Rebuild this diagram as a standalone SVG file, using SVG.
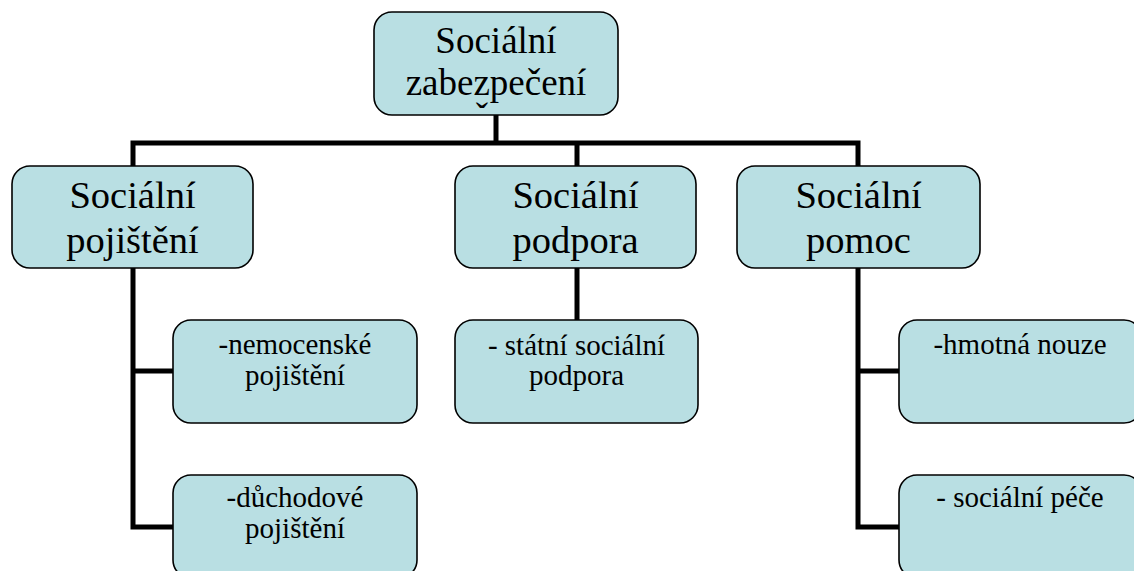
<svg xmlns="http://www.w3.org/2000/svg" width="1134" height="571" viewBox="0 0 1134 571" font-family="Liberation Serif, Times New Roman, serif">
<style>
.box{fill:#b9dfe3;stroke:#000;stroke-width:1.6}
.t{fill:#000;text-anchor:middle}
.t1{font-size:37px}
.t2{font-size:38.5px}
.t3{font-size:29px}
.c{fill:none;stroke:#000;stroke-width:5;stroke-linecap:butt;stroke-linejoin:miter}
</style>
<rect width="1134" height="571" fill="#fff"/>
<g id="connectors">
<path class="c" d="M496,115 V143 M130.5,143 H860.5 M133,143 V166 M577,143 V166 M858,143 V166"/>
<path class="c" d="M133,268 V529.5 M133,371 H173 M133,527 H173"/>
<path class="c" d="M577,268 V320"/>
<path class="c" d="M858,268 V529.5 M858,371 H899 M858,527 H899"/>
</g>
<g id="n-root">
<rect class="box" x="374" y="12" width="244" height="103" rx="18"/>
<text class="t t1" font-family="Liberation Serif" x="496" y="53">Sociální</text>
<text class="t t1" font-family="Liberation Serif" x="496" y="95">zabezpečení</text>
<text class="t t1" font-family="Liberation Serif" x="482" y="129">ˇ</text>
</g>
<g id="n-pojisteni">
<rect class="box" x="12" y="166" width="241" height="102" rx="18"/>
<text class="t t2" x="132.5" y="208">Sociální</text>
<text class="t t2" x="132.5" y="253">pojištění</text>
</g>
<g id="n-podpora">
<rect class="box" x="455" y="166" width="241" height="102" rx="18"/>
<text class="t t2" x="575.5" y="208">Sociální</text>
<text class="t t2" x="575.5" y="253">podpora</text>
</g>
<g id="n-pomoc">
<rect class="box" x="737" y="166" width="243" height="102" rx="18"/>
<text class="t t2" x="858.5" y="208">Sociální</text>
<text class="t t2" x="858.5" y="253">pomoc</text>
</g>
<g id="n-nemocenske">
<rect class="box" x="173" y="320" width="244" height="103" rx="18"/>
<text class="t t3" x="295" y="354">-nemocenské</text>
<text class="t t3" x="295" y="385">pojištění</text>
</g>
<g id="n-duchodove">
<rect class="box" x="173" y="475" width="244" height="103" rx="18"/>
<text class="t t3" x="295" y="507">-důchodové</text>
<text class="t t3" x="295" y="538">pojištění</text>
</g>
<g id="n-statni">
<rect class="box" x="455" y="320" width="243" height="103" rx="18"/>
<text class="t t3" x="576.5" y="355">- státní sociální</text>
<text class="t t3" x="576.5" y="385">podpora</text>
</g>
<g id="n-hmotna">
<rect class="box" x="899" y="320" width="243" height="103" rx="18"/>
<text class="t t3" x="1020" y="354">-hmotná nouze</text>
</g>
<g id="n-pece">
<rect class="box" x="899" y="475" width="243" height="103" rx="18"/>
<text class="t t3" x="1020" y="507">- sociální péče</text>
</g>
</svg>
